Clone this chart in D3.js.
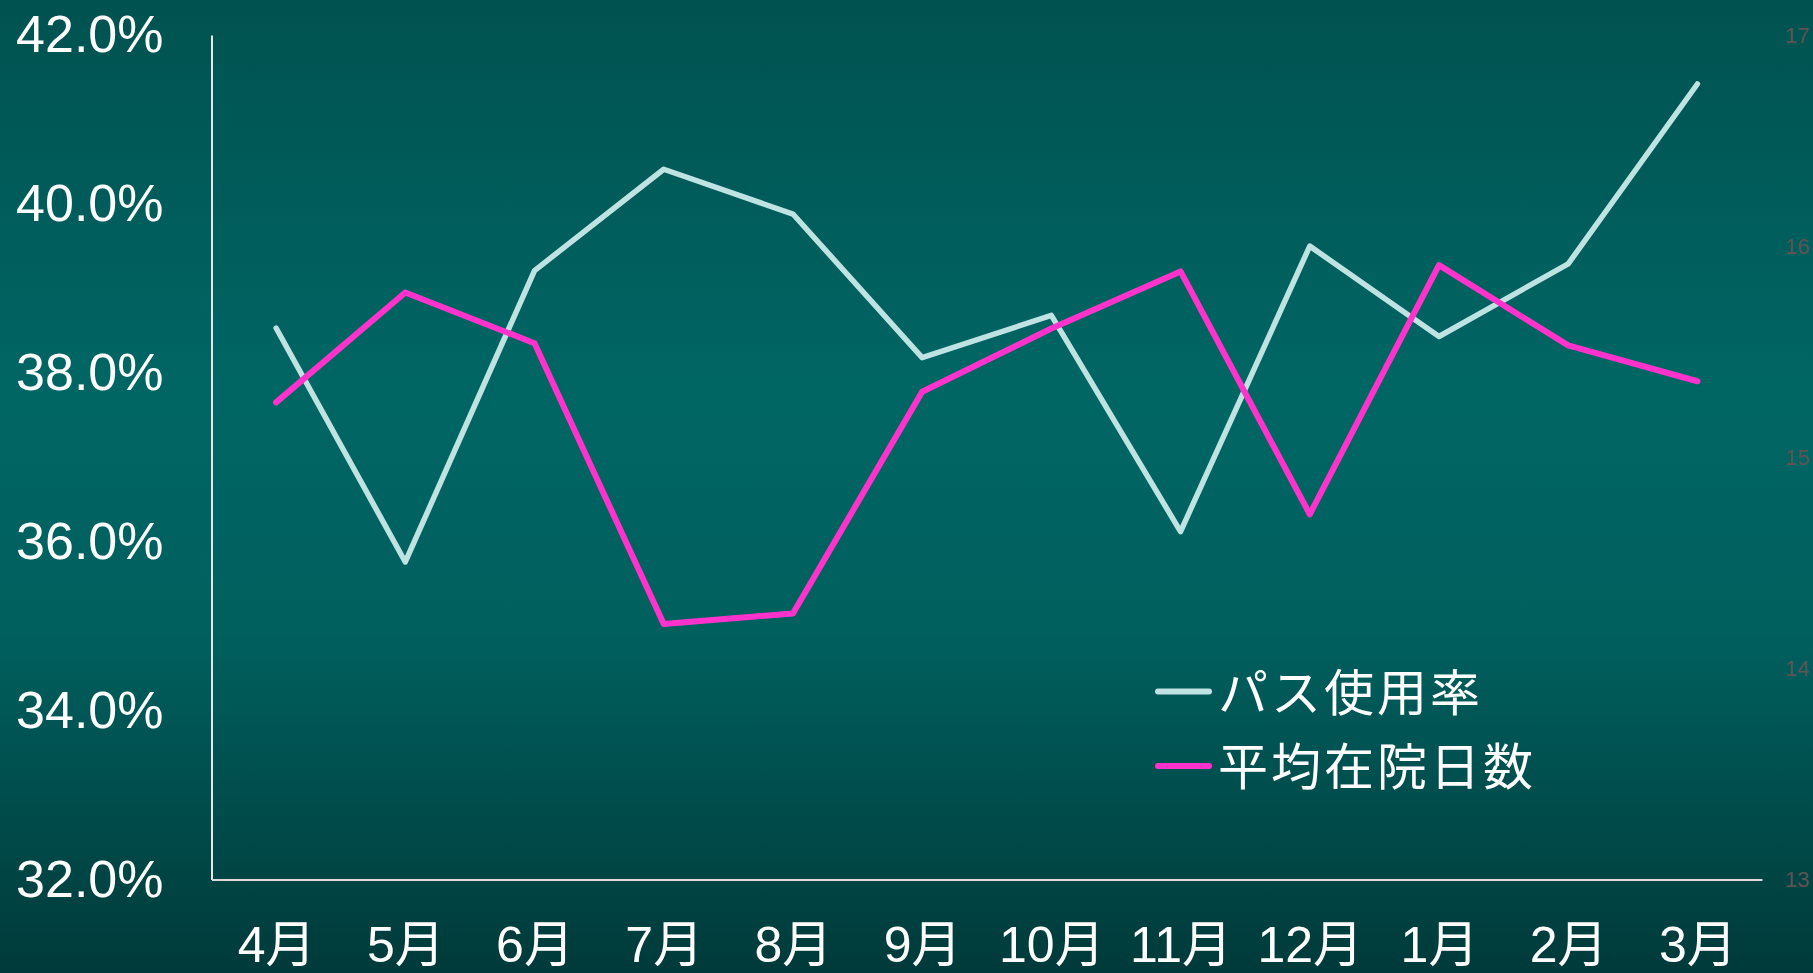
<!DOCTYPE html>
<html>
<head>
<meta charset="utf-8">
<script src="https://cdn.jsdelivr.net/npm/d3@7"></script>
<style>
html,body{margin:0;padding:0;background:#005a58;}
svg{display:block;}
</style>
</head>
<body>
<svg id="chart" width="1813" height="973"></svg>
<script>
const months = ["4月","5月","6月","7月","8月","9月","10月","11月","12月","1月","2月","3月"];
const pathRate = [38.53,35.76,39.21,40.41,39.88,38.18,38.68,36.12,39.50,38.43,39.29,41.42];
const avgStay = [15.26,15.78,15.54,14.21,14.26,15.31,15.61,15.88,14.73,15.91,15.53,15.36];
const leftTicks = [32,34,36,38,40,42];
const rightTicks = [13,14,15,16,17];
const seriesNames = ["パス使用率","平均在院日数"];
const seriesColors = ["#bfe3e3","#ff33cc"];

const W = 1813, H = 973;
const plotL = 211.5, plotR = 1762, plotT = 35, plotB = 879.5;
const svg = d3.select("#chart");

const defs = svg.append("defs");
const grad = defs.append("linearGradient").attr("id","bg").attr("x1",0).attr("y1",0).attr("x2",0).attr("y2",1);
[[0,"#005250"],[0.4,"#006664"],[0.65,"#00605e"],[1,"#003a3a"]].forEach(s=>grad.append("stop").attr("offset",s[0]).attr("stop-color",s[1]));
svg.append("rect").attr("width",W).attr("height",H).attr("fill","url(#bg)");

const x = d3.scalePoint().domain(months).range([plotL,plotR]).padding(0.5);
const yL = d3.scaleLinear().domain([32,42]).range([plotB,plotT]);
const yR = d3.scaleLinear().domain([13,17]).range([plotB,plotT]);

const font = "'Liberation Sans', Arial, 'Noto Sans CJK JP', sans-serif";

// left axis
const gL = svg.append("g").attr("transform",`translate(${plotL},0)`)
  .call(d3.axisLeft(yL).tickValues(leftTicks).tickSize(0).tickPadding(48).tickFormat(d=>d.toFixed(1)+"%"));
gL.select(".domain").attr("stroke","#e6e6e6").attr("stroke-width",2);
gL.selectAll("text").attr("fill","#ffffff").style("font-family",font).style("font-size","52px");

// right axis
const gR = svg.append("g").attr("transform",`translate(${plotR},0)`)
  .call(d3.axisRight(yR).tickValues(rightTicks).tickSize(0).tickPadding(23).tickFormat(d3.format("d")));
gR.select(".domain").remove();
gR.selectAll("text").attr("fill","#5e5454").style("font-family",font).style("font-size","22px");

// bottom axis
const gB = svg.append("g").attr("transform",`translate(0,${plotB})`)
  .call(d3.axisBottom(x).tickSize(0).tickSizeOuter(0).tickPadding(47));
gB.select(".domain").attr("stroke","#d9d9d9").attr("stroke-width",2);
gB.selectAll("text").attr("fill","#ffffff").style("font-family",font).style("font-size","50px");

// lines
const lineL = d3.line().x((d,i)=>x(months[i])).y(d=>yL(d));
const lineR = d3.line().x((d,i)=>x(months[i])).y(d=>yR(d));
svg.append("path").datum(pathRate).attr("d",lineL).attr("fill","none")
  .attr("stroke",seriesColors[0]).attr("stroke-width",5.5).attr("stroke-linecap","round").attr("stroke-linejoin","round");
svg.append("path").datum(avgStay).attr("d",lineR).attr("fill","none")
  .attr("stroke",seriesColors[1]).attr("stroke-width",6).attr("stroke-linecap","round").attr("stroke-linejoin","round");

// legend
const legY = [691.5, 766];
const leg = svg.append("g");
seriesNames.forEach((name,i)=>{
  leg.append("line").attr("x1",1158).attr("x2",1209).attr("y1",legY[i]).attr("y2",legY[i])
    .attr("stroke",seriesColors[i]).attr("stroke-width",6).attr("stroke-linecap","round");
  leg.append("text").attr("x",1218).attr("y",legY[i] - 3).attr("dominant-baseline","central")
    .attr("fill","#ffffff").style("font-family","'Noto Sans CJK JP', sans-serif").style("font-size","50px")
    .style("letter-spacing","3px").text(name);
});
</script>
</body>
</html>
